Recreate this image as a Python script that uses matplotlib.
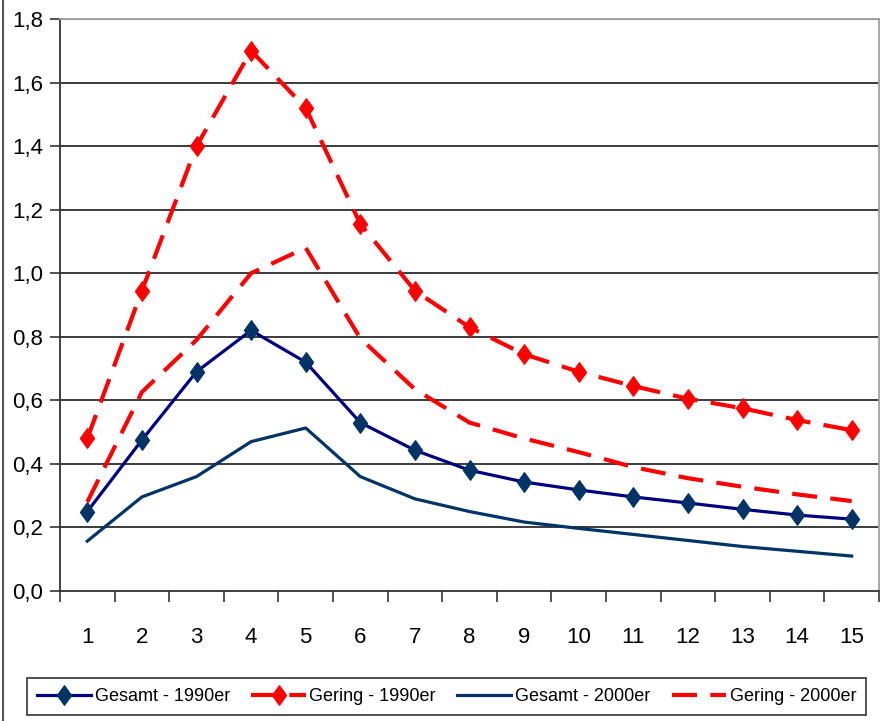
import matplotlib
matplotlib.use("Agg")
import matplotlib.pyplot as plt
from matplotlib.lines import Line2D
from matplotlib.path import Path
import numpy as np

plt.rcParams['font.family'] = ['Liberation Sans Narrow', 'Liberation Sans', 'DejaVu Sans']

categories = list(range(1, 16))
gesamt_1990 = [0.25, 0.475, 0.69, 0.82, 0.72, 0.53, 0.443, 0.38, 0.343, 0.318, 0.296, 0.277, 0.257, 0.239, 0.226]
gering_1990 = [0.48, 0.945, 1.40, 1.70, 1.52, 1.155, 0.945, 0.83, 0.745, 0.69, 0.645, 0.605, 0.575, 0.538, 0.506]
gesamt_2000 = [0.157, 0.296, 0.36, 0.47, 0.513, 0.36, 0.29, 0.25, 0.217, 0.197, 0.178, 0.159, 0.14, 0.125, 0.11]
gering_2000 = [0.28, 0.626, 0.79, 1.00, 1.08, 0.795, 0.635, 0.53, 0.48, 0.437, 0.39, 0.355, 0.328, 0.304, 0.283]
y_ticks = [0.0, 0.2, 0.4, 0.6, 0.8, 1.0, 1.2, 1.4, 1.6, 1.8]
y_labels = ["0,0", "0,2", "0,4", "0,6", "0,8", "1,0", "1,2", "1,4", "1,6", "1,8"]
series_names = ["Gesamt - 1990er", "Gering - 1990er", "Gesamt - 2000er", "Gering - 2000er"]

W, H = 891, 721
fig = plt.figure(figsize=(W / 100, H / 100), dpi=100)
ax = fig.add_axes([60 / W, 1 - 591 / H, (879 - 60) / W, (591 - 19) / H])

x = np.array(categories)
red = '#FF0000'
navy = '#000080'
dblue = '#003366'
diamond = Path([(0, 1), (0.72, 0), (0, -1), (-0.72, 0), (0, 1)],
               [Path.MOVETO, Path.LINETO, Path.LINETO, Path.LINETO, Path.CLOSEPOLY])

for yv in y_ticks[1:]:
    ax.axhline(yv, color='#1a1a1a', lw=1.2, zorder=1)

l1, = ax.plot(x, gesamt_1990, color=navy, lw=2.3, marker=diamond, markersize=14,
              markerfacecolor=dblue, markeredgecolor=dblue, zorder=4, label=series_names[0])
l2, = ax.plot(x, gering_1990, color=red, lw=3.0, dashes=(6, 3.2), marker=diamond, markersize=14,
              markerfacecolor=red, markeredgecolor=red, zorder=4, label=series_names[1])
l3, = ax.plot(x, gesamt_2000, color=dblue, lw=2.3, zorder=3, label=series_names[2])
l4, = ax.plot(x, gering_2000, color=red, lw=3.0, dashes=(6, 3.2), zorder=3, label=series_names[3])

ax.set_xlim(0.5, 15.5)
ax.set_ylim(0, 1.8)
ax.set_yticks(y_ticks)
ax.set_yticklabels(y_labels)
ax.set_xticks(np.arange(0.5, 16, 1.0))
ax.set_xticklabels([])
ax.set_xticks(x, minor=True)
ax.set_xticklabels([str(c) for c in categories], minor=True)
ax.tick_params(axis='x', which='major', length=8, width=1.2, color='#333333', direction='out')
ax.tick_params(axis='x', which='minor', length=0, pad=26, labelsize=16)
ax.tick_params(axis='y', length=7, width=1.2, color='#333333', direction='out', labelsize=16, pad=5)

for s in ['left', 'bottom']:
    ax.spines[s].set_color('#333333')
    ax.spines[s].set_linewidth(1.3)
for s in ['top', 'right']:
    ax.spines[s].set_color('#a0a0a0')
    ax.spines[s].set_linewidth(1.3)

leg_top = 1 - 678 / H
leg = fig.legend(handles=[l1, l2, l3, l4], loc='upper left',
                 bbox_to_anchor=(27 / W, -0.01, (866 - 27) / W, leg_top + 0.01),
                 mode='expand', ncol=4, frameon=True, fancybox=False,
                 fontsize=13, handlelength=3.0, handletextpad=0.2, columnspacing=0.5,
                 borderpad=0.55, borderaxespad=0)
leg.get_frame().set_edgecolor('black')
leg.get_frame().set_linewidth(1.2)

fig.add_artist(Line2D([3 / W, 3 / W], [0, 1], transform=fig.transFigure, color='#555555', lw=1.5))

fig.savefig('out.png', dpi=100)
